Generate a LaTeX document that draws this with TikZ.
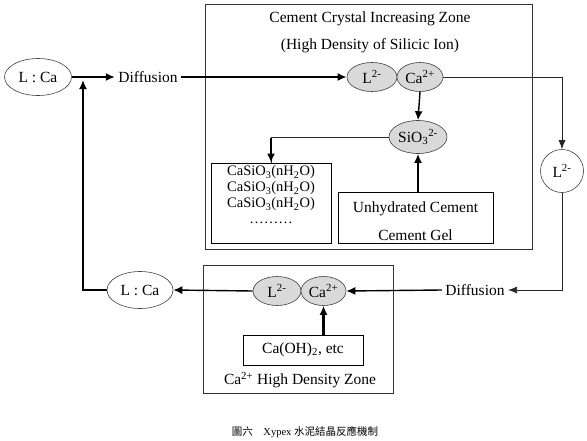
\documentclass[tikz,border=0pt]{standalone}
\usepackage{fontspec}
\setmainfont{Liberation Serif}
\newfontfamily\cjk{Noto Sans CJK TC}
\usetikzlibrary{arrows.meta,shapes.geometric}
\tikzset{
  ratioring/.style={
    ellipse,
    draw=black!75,
    line width=0.6pt,
    inner sep=0pt,
    minimum width=67pt,
    minimum height=37pt
  },
  ionbubble/.style={
    ellipse,
    draw=black!75,
    fill=gray!30,
    line width=0.6pt,
    inner sep=0pt,
    minimum height=29pt
  },
  zonebox/.style={
    draw=black!80,
    line width=0.8pt
  },
  phasebox/.style={
    draw=black,
    line width=0.8pt,
    inner sep=0pt
  },
  plainline/.style={
    draw=black!85,
    line width=0.8pt
  },
  boldflow/.style={
    draw=black,
    -{Latex[length=9pt,width=8pt]},
    line width=2.4pt
  },
  midflow/.style={
    draw=black,
    -{Latex[length=9pt,width=8pt]},
    line width=1.4pt
  }
}

\begin{document}
\begin{tikzpicture}[x=1pt,y=-1pt,font=\fontsize{15.5}{17}\selectfont]
  \useasboundingbox (0,0) rectangle (587,440);
  % zones
  \draw[zonebox] (205,4) rectangle (532,249);
  \draw[zonebox] (203,265) rectangle (393,393);
  \node (crystaltitle) at (370,19) {Cement Crystal Increasing Zone};
  \node (crystalsub) at (370,46) {(High Density of Silicic Ion)};
  \node (calciumzone) at (300,380) {Ca\textsuperscript{2+} High Density Zone};
  % upper path
  \node[ratioring] (lcaTop) at (38,77) {L : Ca};
  \node (diffTop) at (148,77) {Diffusion};
  \node[ionbubble,minimum width=50pt] (lTop) at (372,77) {L\textsuperscript{2-}};
  \node[ionbubble,minimum width=46pt] (caTop) at (420,77) {Ca\textsuperscript{2+}};
  \node[ionbubble,minimum width=58pt,minimum height=33pt] (sio) at (418,137) {SiO\textsubscript{3}\textsuperscript{2-}};
  \node[phasebox,minimum width=120pt,minimum height=80pt] (casio) at (271,203) {};
  \node[align=center,font=\fontsize{14.5}{16}\selectfont] (casiotext) at (271,195) {CaSiO\textsubscript{3}(nH\textsubscript{2}O)\\CaSiO\textsubscript{3}(nH\textsubscript{2}O)\\CaSiO\textsubscript{3}(nH\textsubscript{2}O)\\\ldots\ldots\ldots};
  \node[phasebox,minimum width=155pt,minimum height=51pt] (unhyd) at (415.5,217.5) {};
  \node (unhydA) at (415.5,209) {Unhydrated Cement};
  \node (unhydB) at (415.5,235) {Cement Gel};
  \node[circle,draw=black!75,line width=0.6pt,minimum size=43pt,inner sep=0pt] (lCircle) at (562,171) {L\textsuperscript{2-}};
  % lower path
  \node (diffBot) at (475,290) {Diffusion};
  \node[ionbubble,minimum width=48pt] (lBot) at (277,291) {L\textsuperscript{2-}};
  \node[ionbubble,minimum width=45pt] (caBot) at (323.5,291) {Ca\textsuperscript{2+}};
  \node[phasebox,minimum width=120pt,minimum height=30pt] (caoh) at (303,350) {Ca(OH)\textsubscript{2}, etc};
  \node[ratioring,minimum width=66pt] (lcaBot) at (140,290) {L : Ca};
  \coordinate (merge) at (83,80);
  % connectors
  \draw[boldflow] (lcaTop.east) -- (diffTop.west);
  \draw[boldflow] (diffTop.east) -- (lTop.west);
  \draw[plainline,-{Latex[length=9pt,width=7pt]}] (caTop.east) -| (lCircle.north);
  \draw[midflow] (caTop.south) -- (sio.north);
  \draw[plainline] (sio.west) -| (casio.north);
  \draw[boldflow] (casio.north |- 0,138) -- (casio.north);
  \draw[boldflow] (sio.south |- unhyd.north) -- (sio.south);
  \draw[plainline,-{Latex[length=9pt,width=7pt]}] (lCircle.south) |- (diffBot.east);
  \draw[midflow] (diffBot.west) -- (caBot.east);
  \draw[boldflow] (caBot.south |- caoh.north) -- (caBot.south);
  \draw[midflow] (lBot.west) -- (lcaBot.east);
  \draw[boldflow] (lcaBot.west) -| (merge);
  % caption
  \node[font=\fontsize{10.5}{12}\selectfont] (caption) at (305,432) {{\cjk 圖六}\quad Xypex {\cjk 水泥結晶反應機制}};
\end{tikzpicture}
\end{document}
